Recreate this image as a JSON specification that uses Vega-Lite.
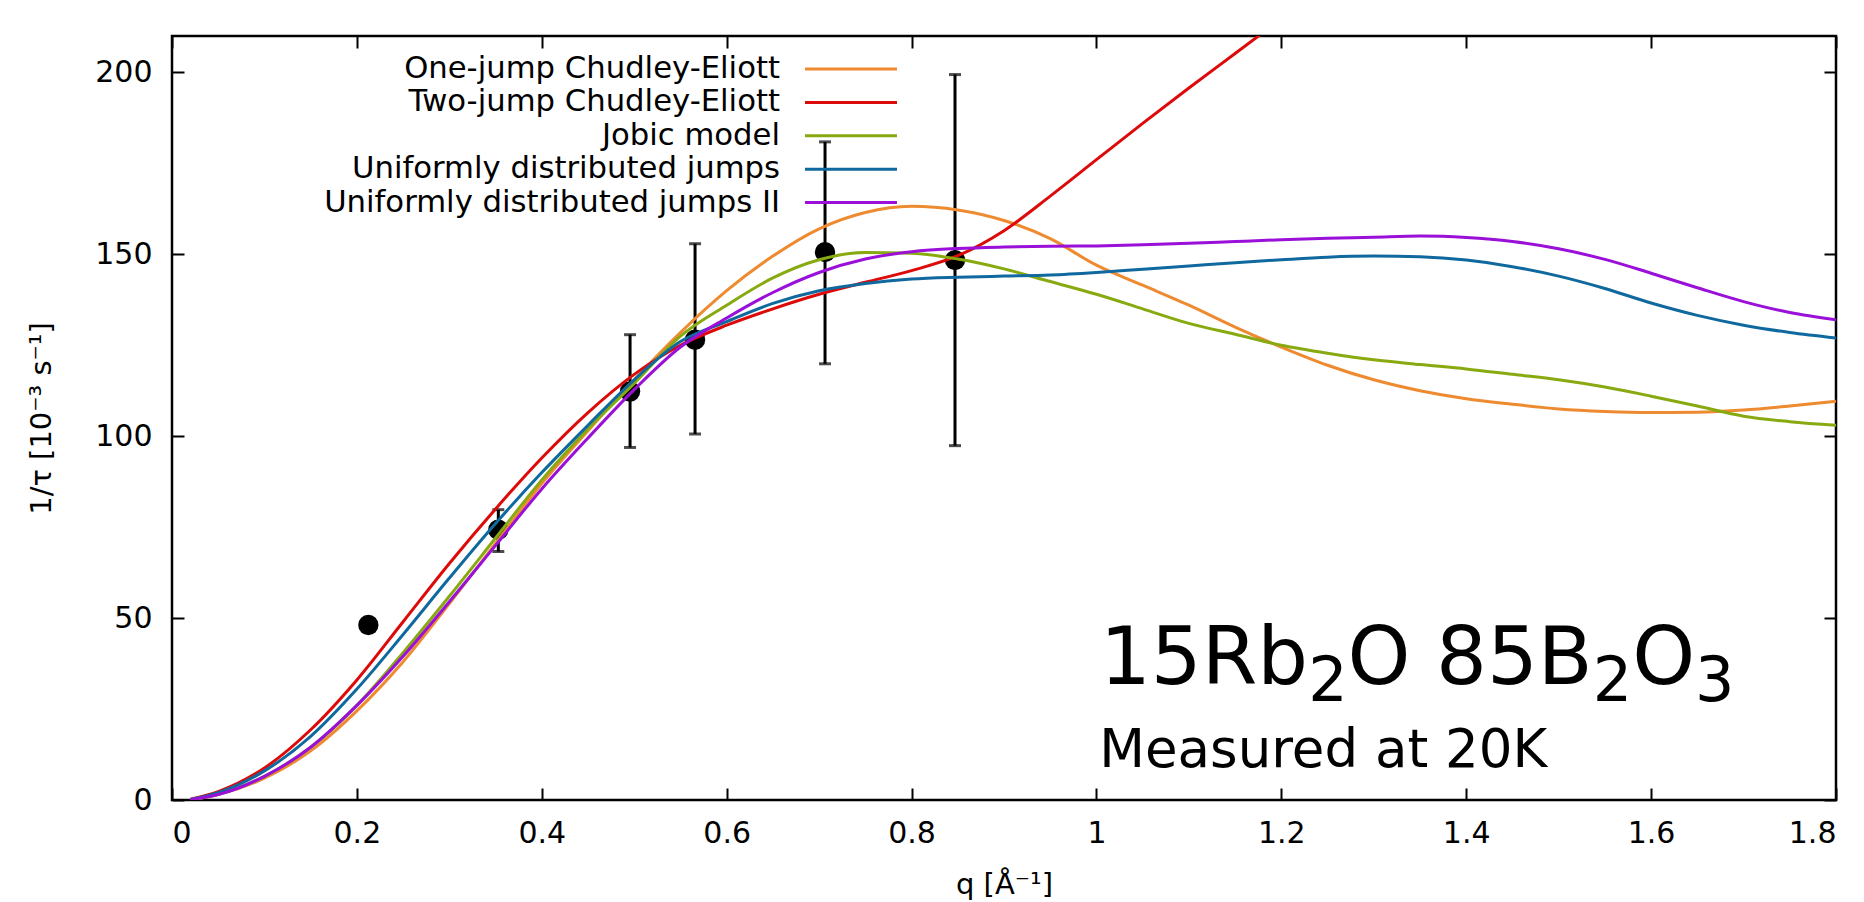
{
  "$schema": "https://vega.github.io/schema/vega-lite/v6.json",
  "width": 1664,
  "height": 764,
  "autosize": {"type": "none"},
  "padding": {"left": 172, "top": 36, "right": 28, "bottom": 102},
  "background": "white",
  "config": {
    "font": "DejaVu Sans",
    "view": {"stroke": "black", "strokeWidth": 2.5},
    "axis": {
      "domain": false,
      "grid": false,
      "tickSize": -12,
      "tickWidth": 2,
      "tickColor": "black",
      "labelFontSize": 30,
      "labelColor": "black",
      "labelFont": "DejaVu Sans",
      "titleFont": "DejaVu Sans",
      "titleFontSize": 29,
      "titleFontWeight": "normal",
      "titleColor": "black"
    },
    "legend": {
      "orient": "none",
      "legendX": 662,
      "legendY": 16,
      "padding": 0,
      "labelFontSize": 30.7,
      "labelColor": "black",
      "labelLimit": 1000,
      "labelAlign": "right",
      "labelOffset": -88,
      "symbolType": "M-3,0H3",
      "symbolSize": 940,
      "symbolStrokeWidth": 3,
      "rowPadding": 1.4
    }
  },
  "datasets": {
    "pts": [
      {"q": 0.2124, "v": 48.1, "lo": 47.5, "hi": 48.7},
      {"q": 0.353, "v": 74.3, "lo": 68.3, "hi": 79.8},
      {"q": 0.4955, "v": 112.3, "lo": 96.9, "hi": 127.9},
      {"q": 0.5658, "v": 126.5, "lo": 100.6, "hi": 152.9},
      {"q": 0.7064, "v": 150.6, "lo": 119.9, "hi": 180.9},
      {"q": 0.847, "v": 148.4, "lo": 97.4, "hi": 199.4}
    ],
    "curves": [
      {"q": 0.02, "A": 0.1, "B": 0.2, "C": 0.1, "D": 0.15, "E": 0.1},
      {"q": 0.05, "A": 1.5, "B": 2.3, "C": 1.6, "D": 2.0, "E": 1.5},
      {"q": 0.1, "A": 6.0, "B": 8.8, "C": 6.5, "D": 8.0, "E": 6.5},
      {"q": 0.15, "A": 13.5, "B": 19.3, "C": 14.5, "D": 17.5, "E": 14.5},
      {"q": 0.2, "A": 24.5, "B": 33, "C": 26, "D": 30.5, "E": 26},
      {"q": 0.25, "A": 38, "B": 49, "C": 40.5, "D": 45.5, "E": 39.5},
      {"q": 0.3, "A": 54, "B": 65, "C": 56, "D": 61, "E": 54.5},
      {"q": 0.35, "A": 70.5, "B": 80, "C": 72, "D": 76, "E": 70},
      {"q": 0.4, "A": 87, "B": 94, "C": 88, "D": 90, "E": 85.5},
      {"q": 0.45, "A": 101.5, "B": 106.5, "C": 102, "D": 103, "E": 99.5},
      {"q": 0.5, "A": 115.5, "B": 117, "C": 114.5, "D": 115.5, "E": 112.8},
      {"q": 0.55, "A": 128.5, "B": 125, "C": 127.5, "D": 126, "E": 124.5},
      {"q": 0.6, "A": 140, "B": 130.5, "C": 136, "D": 131.5, "E": 132.5},
      {"q": 0.65, "A": 149.5, "B": 135, "C": 143.5, "D": 136.5, "E": 139.5},
      {"q": 0.7, "A": 157, "B": 139, "C": 148.5, "D": 140, "E": 145},
      {"q": 0.75, "A": 161.5, "B": 142.3, "C": 150.5, "D": 142, "E": 148.7},
      {"q": 0.8, "A": 163.2, "B": 145.5, "C": 150.3, "D": 143.2, "E": 150.7},
      {"q": 0.85, "A": 162.2, "B": 149.6, "C": 148.7, "D": 143.7, "E": 151.6},
      {"q": 0.9, "A": 159.3, "B": 156.5, "C": 146, "D": 144, "E": 152},
      {"q": 0.95, "A": 154.3, "B": 166, "C": 142.5, "D": 144.3, "E": 152.2},
      {"q": 1.0, "A": 147, "B": 176, "C": 139, "D": 145, "E": 152.3},
      {"q": 1.05, "A": 141.5, "B": 186, "C": 135, "D": 145.9, "E": 152.6},
      {"q": 1.1, "A": 136, "B": 195.7, "C": 131, "D": 146.8, "E": 153},
      {"q": 1.15, "A": 130, "B": 205.2, "C": 128, "D": 147.7, "E": 153.5},
      {"q": 1.2, "A": 124.5, "B": 214.7, "C": 125, "D": 148.5, "E": 154},
      {"q": 1.25, "A": 119.5, "B": null, "C": 122.8, "D": 149.2, "E": 154.4},
      {"q": 1.3, "A": 115.5, "B": null, "C": 121, "D": 149.5, "E": 154.7},
      {"q": 1.35, "A": 112.5, "B": null, "C": 119.7, "D": 149.3, "E": 155},
      {"q": 1.4, "A": 110.3, "B": null, "C": 118.5, "D": 148.4, "E": 154.6},
      {"q": 1.45, "A": 108.8, "B": null, "C": 117, "D": 146.6, "E": 153.5},
      {"q": 1.5, "A": 107.5, "B": null, "C": 115.5, "D": 144, "E": 151.5},
      {"q": 1.55, "A": 106.8, "B": null, "C": 113.5, "D": 140.6, "E": 148.6},
      {"q": 1.6, "A": 106.5, "B": null, "C": 111, "D": 136.6, "E": 144.8},
      {"q": 1.65, "A": 106.6, "B": null, "C": 108.3, "D": 133.2, "E": 140.8},
      {"q": 1.7, "A": 107.2, "B": null, "C": 105.5, "D": 130.5, "E": 137},
      {"q": 1.75, "A": 108.3, "B": null, "C": 104, "D": 128.5, "E": 134},
      {"q": 1.8, "A": 109.6, "B": null, "C": 103, "D": 127, "E": 132}
    ],
    "names": [
      {"key": "A", "model": "One-jump Chudley-Eliott"},
      {"key": "B", "model": "Two-jump Chudley-Eliott"},
      {"key": "C", "model": "Jobic model"},
      {"key": "D", "model": "Uniformly distributed jumps"},
      {"key": "E", "model": "Uniformly distributed jumps II"}
    ],
    "titleMain": [
      {"q": 1.0038, "v": 31.9, "label": "15Rb"},
      {"q": 1.2717, "v": 31.9, "label": "O 85B"},
      {"q": 1.5795, "v": 31.9, "label": "O"}
    ],
    "titleSub": [
      {"q": 1.2291, "v": 27.3, "label": "2"},
      {"q": 1.5368, "v": 27.3, "label": "2"},
      {"q": 1.6476, "v": 27.3, "label": "3"}
    ]
  },
  "layer": [
    {
      "data": {"name": "pts"},
      "mark": {"type": "errorbar", "color": "black", "thickness": 3, "ticks": {"size": 12, "thickness": 3, "color": "black"}},
      "encoding": {
        "x": {
          "field": "q", "type": "quantitative",
          "scale": {"domain": [0, 1.8], "nice": false, "zero": false},
          "axis": {"orient": "bottom", "values": [0, 0.2, 0.4, 0.6, 0.8, 1, 1.2, 1.4, 1.6, 1.8], "format": "~g", "labelPadding": 30, "title": "q [Å⁻¹]", "titlePadding": 22}
        },
        "y": {
          "field": "lo", "type": "quantitative",
          "scale": {"domain": [0, 210], "nice": false},
          "axis": {"orient": "left", "values": [0, 50, 100, 150, 200], "labelPadding": 32, "title": "1/τ [10⁻³ s⁻¹]", "titlePadding": 38}
        },
        "y2": {"field": "hi"}
      }
    },
    {
      "data": {"name": "pts"},
      "mark": {"type": "point", "filled": true, "color": "black", "opacity": 1, "size": 415},
      "encoding": {
        "x": {"field": "q", "type": "quantitative", "axis": {"orient": "top", "values": [0, 0.2, 0.4, 0.6, 0.8, 1, 1.2, 1.4, 1.6, 1.8], "labels": false, "title": null}},
        "y": {"field": "v", "type": "quantitative", "axis": {"orient": "right", "values": [0, 50, 100, 150, 200], "labels": false, "title": null}}
      }
    },
    {
      "data": {"name": "curves"},
      "transform": [
        {"fold": ["A", "B", "C", "D", "E"], "as": ["key", "v"]},
        {"filter": "datum.v != null"},
        {"lookup": "key", "from": {"data": {"name": "names"}, "key": "key", "fields": ["model"]}}
      ],
      "mark": {"type": "line", "strokeWidth": 3, "interpolate": "monotone", "clip": true},
      "encoding": {
        "x": {"field": "q", "type": "quantitative", "axis": null},
        "y": {"field": "v", "type": "quantitative", "axis": null},
        "color": {
          "field": "model", "type": "nominal",
          "scale": {
            "domain": ["One-jump Chudley-Eliott", "Two-jump Chudley-Eliott", "Jobic model", "Uniformly distributed jumps", "Uniformly distributed jumps II"],
            "range": ["#ee8a30", "#dd0a0a", "#88aa10", "#10699e", "#9a10d8"]
          },
          "legend": {"title": null}
        }
      }
    },
    {
      "data": {"name": "titleMain"},
      "mark": {"type": "text", "fontSize": 80, "align": "left", "baseline": "alphabetic", "color": "black", "font": "DejaVu Sans"},
      "encoding": {
        "x": {"field": "q", "type": "quantitative", "axis": null},
        "y": {"field": "v", "type": "quantitative", "axis": null},
        "text": {"field": "label"}
      }
    },
    {
      "data": {"name": "titleSub"},
      "mark": {"type": "text", "fontSize": 62, "align": "left", "baseline": "alphabetic", "color": "black", "font": "DejaVu Sans"},
      "encoding": {
        "x": {"field": "q", "type": "quantitative", "axis": null},
        "y": {"field": "v", "type": "quantitative", "axis": null},
        "text": {"field": "label"}
      }
    },
    {
      "data": {"values": [{"q": 1.003, "v": 9.1, "label": "Measured at 20K"}]},
      "mark": {"type": "text", "fontSize": 53, "align": "left", "baseline": "alphabetic", "color": "black", "font": "DejaVu Sans"},
      "encoding": {
        "x": {"field": "q", "type": "quantitative", "axis": null},
        "y": {"field": "v", "type": "quantitative", "axis": null},
        "text": {"field": "label"}
      }
    }
  ],
  "resolve": {"axis": {"x": "independent", "y": "independent"}}
}
